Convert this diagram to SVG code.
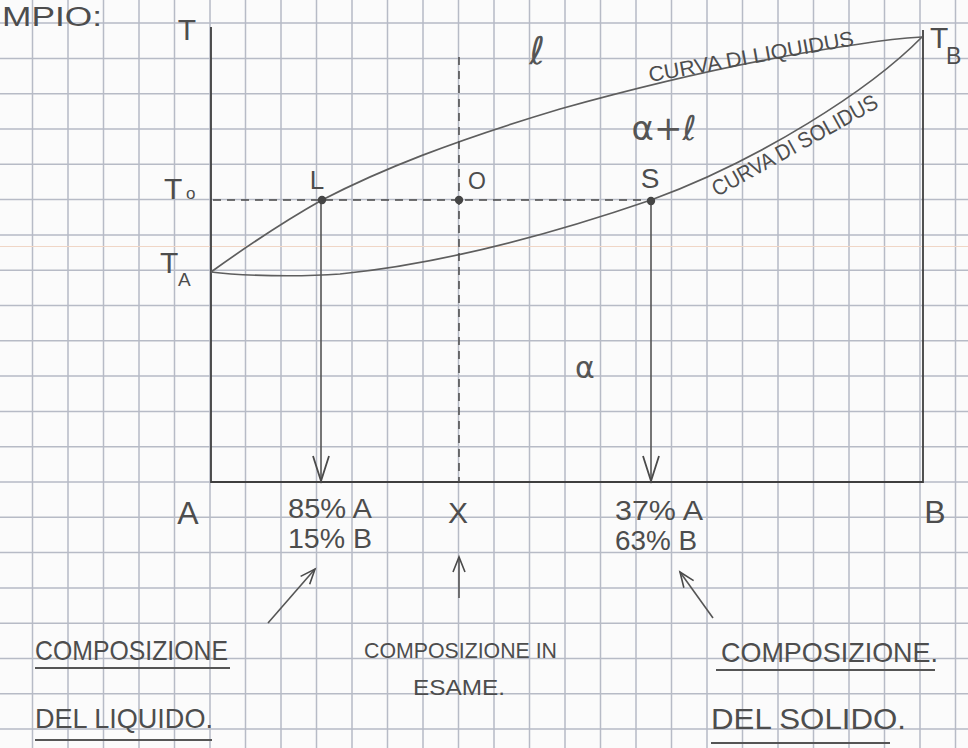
<svg xmlns="http://www.w3.org/2000/svg" width="968" height="748" viewBox="0 0 968 748">
<style>
.grid{stroke:#b7bbc6;stroke-width:1.5;fill:none}
.axis{stroke:#3f3f3f;stroke-width:1.8;fill:none}
.curve{stroke:#5e5e5e;stroke-width:1.7;fill:none}
.dash{stroke:#4a4a4a;stroke-width:1.5;stroke-dasharray:8 6;fill:none}
.conn{stroke:#555;stroke-width:1.6;fill:none}
.ul{stroke:#555;stroke-width:1.8;fill:none}
text{font-family:"Liberation Sans","DejaVu Sans",sans-serif;fill:#4d4d4d}
.lbl{font-size:30px}
.hand{font-size:28px}
.greek{font-family:"DejaVu Sans",sans-serif;fill:#555}
</style>
<defs>
<marker id="vhead" markerUnits="userSpaceOnUse" markerWidth="30" markerHeight="20" viewBox="0 0 30 20" refX="26" refY="9" orient="auto">
<path d="M1,1 L26,9 L1,17" stroke="#4a4a4a" stroke-width="1.8" fill="none"/>
</marker>
<marker id="uphead" markerUnits="userSpaceOnUse" markerWidth="20" markerHeight="16" viewBox="0 0 20 16" refX="16" refY="7" orient="auto">
<path d="M1,1 L16,7 L1,13" stroke="#4a4a4a" stroke-width="1.6" fill="none"/>
</marker>
</defs>
<rect width="968" height="748" fill="#fbfbfb"/>
<g id="grid" class="grid">
<path d="M32.5,0V748M68,0V748M103.5,0V748M139,0V748M174.5,0V748M210,0V748M245.5,0V748M281,0V748M316.5,0V748M352,0V748M387.5,0V748M423,0V748M458.5,0V748M494,0V748M529.5,0V748M565,0V748M600.5,0V748M636,0V748M671.5,0V748M707,0V748M742.5,0V748M778,0V748M813.5,0V748M849,0V748M884.5,0V748M920,0V748M955.5,0V748"/>
<path d="M0,23.1H968M0,58.4H968M0,93.7H968M0,129H968M0,164.3H968M0,199.6H968M0,234.9H968M0,270.2H968M0,305.5H968M0,340.8H968M0,376.1H968M0,411.4H968M0,446.7H968M0,482H968M0,517.3H968M0,552.6H968M0,587.9H968M0,623.2H968M0,658.5H968M0,693.8H968M0,729.1H968"/>
<path d="M0,246.5H968" stroke="#f0d6c6" stroke-width="1.2"/>
</g>
<g id="axes">
<path class="axis" d="M211,27V482H923V30"/>
</g>
<g id="curves">
<path id="liquidus" class="curve" d="M211,272 C250,244 290,218 322,200 C380,170 450,142 560,109 C650,84 760,58 860,44 C885,40 905,38 922,37"/>
<path id="solidus" class="curve" d="M211,272 C240,276 300,277 340,274 C420,266 520,245 651,200 C760,160 870,90 922,37"/>
<path id="t0-line" class="dash" d="M213,200H651"/>
<path id="x-line" class="dash" d="M459,57V482"/>
</g>
<g id="connectors">
<path class="conn" d="M321,200V481" marker-end="url(#vhead)"/>
<path class="conn" d="M651,201V481" marker-end="url(#vhead)"/>
<path class="conn" d="M268,623L315,569" marker-end="url(#uphead)"/>
<path class="conn" d="M459,598V557" marker-end="url(#uphead)"/>
<path class="conn" d="M713,618L680,572" marker-end="url(#uphead)"/>
</g>
<g id="points" fill="#454545">
<circle id="pt-L" cx="322" cy="200" r="4.2"/>
<circle id="pt-O" cx="459" cy="200" r="4.2"/>
<circle id="pt-S" cx="651" cy="201" r="4.2"/>
</g>
<g id="labels">
<text x="2" y="26" style="font-size:27px" textLength="100" lengthAdjust="spacingAndGlyphs">MPIO:</text>
<text x="187" y="40" class="lbl" text-anchor="middle">T</text>
<text x="164" y="199" class="lbl">T</text><text x="186" y="199" style="font-size:17px">o</text>
<text x="160" y="273" class="lbl">T</text><text x="178" y="286" style="font-size:19px">A</text>
<text x="930" y="48" class="lbl">T</text><text x="946" y="64" style="font-size:23px">B</text>
<text x="317" y="189" style="font-size:26px" text-anchor="middle">L</text>
<text x="477" y="189" style="font-size:23px" text-anchor="middle">O</text>
<text x="650" y="188" style="font-size:28px" text-anchor="middle">S</text>
<text x="537" y="64" class="greek" style="font-size:38px" text-anchor="middle">ℓ</text>
<text x="664" y="140" class="greek" style="font-size:34px" text-anchor="middle">α+ℓ</text>
<text x="585" y="378" class="greek" style="font-size:30px" text-anchor="middle">α</text>
<text x="650" y="82" style="font-size:21px" transform="rotate(-10.2 650 82)" textLength="208" lengthAdjust="spacingAndGlyphs">CURVA DI LIQUIDUS</text>
<text x="717" y="197" style="font-size:22px" transform="rotate(-29 717 197)" textLength="186" lengthAdjust="spacingAndGlyphs">CURVA DI SOLIDUS</text>
<text x="188" y="524" style="font-size:32px" text-anchor="middle">A</text>
<text x="458" y="523" style="font-size:30px" text-anchor="middle">X</text>
<text x="935" y="523" style="font-size:32px" text-anchor="middle">B</text>
<text x="288" y="518" class="hand" textLength="84" lengthAdjust="spacingAndGlyphs">85% A</text>
<text x="288" y="548" class="hand" textLength="84" lengthAdjust="spacingAndGlyphs">15% B</text>
<text x="615" y="520" class="hand" textLength="88" lengthAdjust="spacingAndGlyphs">37% A</text>
<text x="615" y="550" class="hand" textLength="82" lengthAdjust="spacingAndGlyphs">63% B</text>
<text x="35" y="660" style="font-size:28px" textLength="193" lengthAdjust="spacingAndGlyphs">COMPOSIZIONE</text>
<path class="ul" d="M35,668H230"/>
<text x="35" y="728" style="font-size:28px" textLength="178" lengthAdjust="spacingAndGlyphs">DEL LIQUIDO.</text>
<path class="ul" d="M35,740H212"/>
<text x="364" y="658" style="font-size:22px" textLength="193" lengthAdjust="spacingAndGlyphs">COMPOSIZIONE IN</text>
<text x="413" y="695" style="font-size:22px" textLength="92" lengthAdjust="spacingAndGlyphs">ESAME.</text>
<text x="721" y="662" style="font-size:28px" textLength="217" lengthAdjust="spacingAndGlyphs">COMPOSIZIONE.</text>
<path class="ul" d="M716,670H935"/>
<text x="711" y="729" style="font-size:29px" textLength="195" lengthAdjust="spacingAndGlyphs">DEL SOLIDO.</text>
<path class="ul" d="M711,743H890"/>
</g>
</svg>
